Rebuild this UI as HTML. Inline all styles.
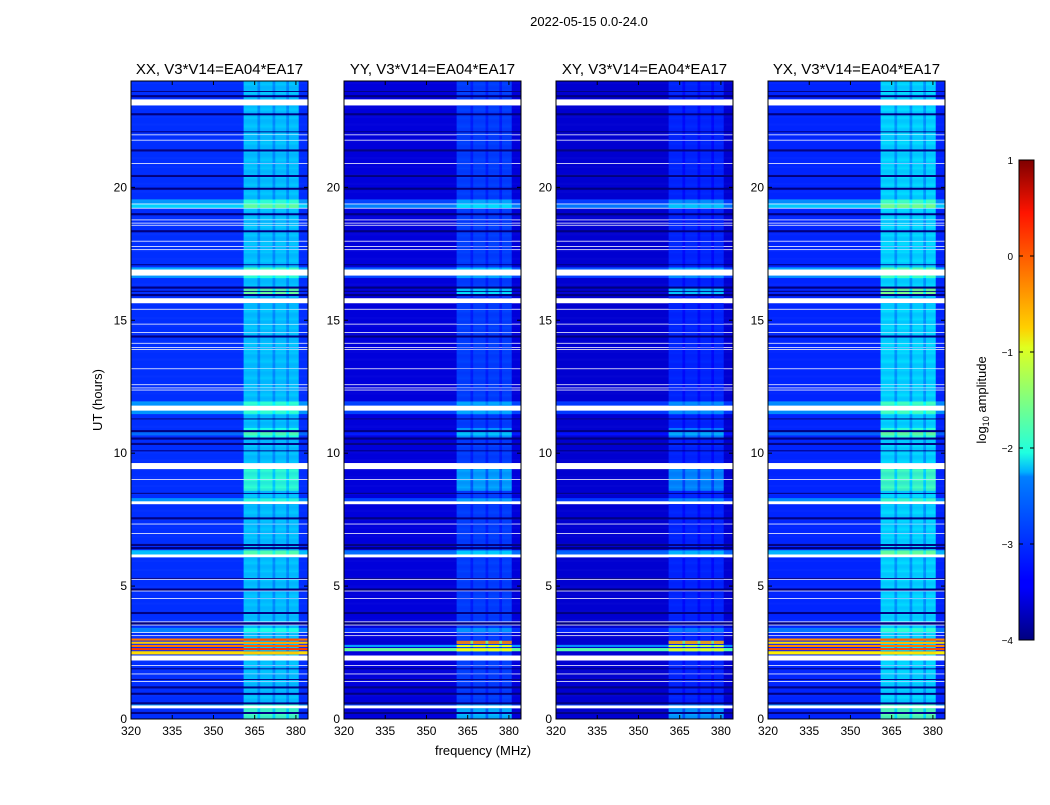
<!DOCTYPE html>
<html><head><meta charset="utf-8">
<style>
html,body{margin:0;padding:0;background:#fff;}
svg text{font-family:"Liberation Sans",sans-serif;fill:#000;}
</style></head>
<body>
<svg id="fig" width="1050" height="800" viewBox="0 0 1050 800" xmlns="http://www.w3.org/2000/svg">
<defs>
<linearGradient id="jet" x1="0" y1="1" x2="0" y2="0">
<stop offset="0" stop-color="#00007f"/><stop offset="0.11" stop-color="#0000ff"/>
<stop offset="0.125" stop-color="#0000ff"/><stop offset="0.34" stop-color="#0080ff"/>
<stop offset="0.35" stop-color="#00b0ff"/><stop offset="0.39" stop-color="#1fffe0"/>
<stop offset="0.5" stop-color="#80ff80"/><stop offset="0.61" stop-color="#e0ff1f"/>
<stop offset="0.65" stop-color="#ffd000"/><stop offset="0.89" stop-color="#ff1400"/>
<stop offset="1" stop-color="#7f0000"/>
</linearGradient>
</defs>
<text x="589" y="26" font-size="13" text-anchor="middle">2022-05-15 0.0-24.0</text>
<text x="483" y="755" font-size="13" text-anchor="middle">frequency (MHz)</text>
<text x="0" y="0" font-size="13" text-anchor="middle" transform="translate(102,400) rotate(-90)">UT (hours)</text>
<g id="panels"></g>
<g>
<rect x="1019" y="160" width="15" height="480" fill="url(#jet)" stroke="#000" stroke-width="1"/>
<g id="cbticks"></g>
<text x="0" y="0" font-size="13" text-anchor="middle" transform="translate(986,400) rotate(-90)">log<tspan font-size="9" dy="3">10</tspan><tspan dy="-3"> amplitude</tspan></text>
</g>
</svg>
<script>
const panelNames = ['XX','YY','XY','YX'];
const panelLeft = [131,344,556,768];
const baseLevel = [-3.15,-3.55,-3.6,-3.2];
const bandBoost = [0.75,0.5,0.42,0.9];
const bandEdges = [[361,366],[367,371.5],[372.5,376.5],[377.5,381]];
const xTicks = [320,335,350,365,380];
const yTicks = [0,5,10,15,20];
const cbTicks = [-4,-3,-2,-1,0,1];
const whiteRows = [[23.1,23.34],[21.95,22.0],[21.76,21.8],[20.88,20.92],[19.38,19.42],[19.22,19.26],[18.78,18.82],[18.64,18.68],[18.55,18.59],
 [17.95,17.99],[17.78,17.82],[17.63,17.67],[16.7,16.94],[15.66,15.85],[15.4,15.44],[14.84,14.88],[14.54,14.58],[14.14,14.18],[13.98,14.02],
 [13.88,13.92],[13.18,13.22],[12.55,12.59],[12.45,12.49],[12.35,12.39],[11.6,11.8],[9.41,9.65],[9.02,9.06],[8.1,8.2],[7.33,7.37],[6.96,7.0],
 [6.08,6.19],[5.23,5.27],[4.79,4.83],[4.52,4.56],[3.63,3.67],[3.51,3.55],[3.25,3.29],[3.13,3.17],[2.21,2.4],[2.01,2.05],[1.7,1.74],[1.41,1.45],[0.41,0.53]];
const blackRows = [23.62,23.45,22.75,22.1,21.4,20.45,19.95,19.0,18.35,17.1,16.25,16.1,15.95,14.4,11.3,10.85,10.55,10.35,10.1,8.5,7.55,6.55,6.45,5.3,4.88,4.0,3.6,1.9,1.5,1.2,0.95,0.6,0.25];
const cyanRows = [[19.26,19.38,0.8],[19.42,19.55,0.5],[16.94,17.0,0.6],[16.62,16.7,0.5],[11.8,11.95,0.5],[11.48,11.6,0.5],[8.2,8.3,0.5],[6.19,6.35,0.7],[3.29,3.45,0.4],[0.53,0.65,0.5],[10.7,10.8,0.3]];
const brightBandRows = [[15.95,16.3,0.8],[8.6,9.41,0.5],[0.0,0.41,0.6],[10.6,10.95,0.4]];
const hotRowsXX = [[2.95,3.05,-0.2,0.0],[2.85,2.92,-0.6,-0.4],[2.72,2.8,-0.2,-0.1],[2.6,2.68,0.1,0.1],[2.45,2.55,-0.7,-0.6]];
const hotRowsYY = [[2.85,2.95,-3.6,-0.2],[2.72,2.8,-2.6,-1.0],[2.55,2.68,-1.6,-0.9]];
const hotRowsXY = [[2.85,2.95,-3.6,-0.4],[2.72,2.8,-2.7,-1.2],[2.55,2.68,-1.7,-1.0]];
const hotRowsYX = [[2.95,3.05,-0.3,-0.1],[2.85,2.92,-0.7,-0.5],[2.72,2.8,-0.3,-0.2],[2.6,2.68,0.0,0.0],[2.45,2.55,-0.8,-0.7]];
const hotRows = [hotRowsXX,hotRowsYY,hotRowsXY,hotRowsYX];

const NS='http://www.w3.org/2000/svg';
const top0=81, bot0=719, pw=177, fMin=320, fMax=384.4, tMin=0, tMax=24;
function xScale(p,f){return panelLeft[p]+(f-fMin)/(fMax-fMin)*pw;}
function yScale(t){return bot0-(t-tMin)/(tMax-tMin)*(bot0-top0);}
function jet(v){
  let x=(v+4)/5; x=Math.max(0,Math.min(1,x));
  const c=t=>Math.max(0,Math.min(1,1.5-Math.abs(4*x-t)));
  return 'rgb('+Math.round(255*c(3))+','+Math.round(255*c(2))+','+Math.round(255*c(1))+')';
}
function mk(tag,attrs,parent){const e=document.createElementNS(NS,tag);for(const k in attrs)e.setAttribute(k,attrs[k]);parent.appendChild(e);return e;}
function rowInfo(p,t){
  for(const w of whiteRows) if(t>=w[0]&&t<w[1]) return null;
  for(const h of hotRows[p]) if(t>=h[0]&&t<h[1]) return {bg:h[2],band:h[3]};
  for(const b of blackRows) if(Math.abs(t-b)<0.035) return {bg:-4,band:-4};
  let bg=baseLevel[p], extra=0;
  for(const c of cyanRows) if(t>=c[0]&&t<c[1]) bg+=c[2];
  for(const r of brightBandRows) if(t>=r[0]&&t<r[1]) extra+=r[2];
  return {bg:bg,band:bg+bandBoost[p]+extra};
}
const g=document.getElementById('panels');
const dt=0.04;
for(let p=0;p<4;p++){
  const pg=mk('g',{},g);
  
  
  mk('rect',{x:panelLeft[p],y:top0,width:pw,height:bot0-top0,fill:'#fff'},pg);
  const hg=mk('g',{},pg);
  
  
  for(let i=0;i<tMax/dt;i++){
    const t0=i*dt, tm=t0+dt/2, info=rowInfo(p,tm);
    if(!info) continue;
    const y=yScale(t0+dt), h=yScale(t0)-y+0.3;
    const r=mk('rect',{x:xScale(p,fMin),y:y,width:pw,height:h,fill:jet(info.bg)},hg);
    
    
    if(info.band!==info.bg){
      const gp=mk('rect',{x:xScale(p,361),y:y,width:xScale(p,381)-xScale(p,361),height:h,fill:jet(info.bg+(info.band-info.bg)*0.65)},hg);
      
      
      for(const be of bandEdges){
        const c=mk('rect',{x:xScale(p,be[0]),y:y,width:xScale(p,be[1])-xScale(p,be[0]),height:h,fill:jet(info.band)},hg);
        
        
      }
    }
  }
  const fr=mk('rect',{x:panelLeft[p],y:top0,width:pw,height:bot0-top0,fill:'none',stroke:'#000','stroke-width':1},pg);
  
  
  const tt=mk('text',{x:panelLeft[p]+pw/2,y:74,'font-size':15,'text-anchor':'middle'},pg);
  tt.textContent=panelNames[p]+', V3*V14=EA04*EA17';
  
  
  for(const f of xTicks){
    const x=xScale(p,f);
    mk('line',{x1:x,x2:x,y1:bot0,y2:bot0-4,stroke:'#000'},pg);
    mk('line',{x1:x,x2:x,y1:top0,y2:top0+4,stroke:'#000'},pg);
    const tl=mk('text',{x:x,y:bot0+16,'font-size':12,'text-anchor':'middle'},pg);
    tl.textContent=f;
    
    
  }
  for(const t of yTicks){
    const y=yScale(t);
    mk('line',{x1:panelLeft[p],x2:panelLeft[p]+4,y1:y,y2:y,stroke:'#000'},pg);
    mk('line',{x1:panelLeft[p]+pw,x2:panelLeft[p]+pw-4,y1:y,y2:y,stroke:'#000'},pg);
    const tl=mk('text',{x:panelLeft[p]-4,y:y+4,'font-size':12,'text-anchor':'end'},pg);
    tl.textContent=t;
    
    
  }
}
const cb=document.getElementById('cbticks');
for(const v of cbTicks){
  const y=640-(v+4)/5*480;
  mk('line',{x1:1019,x2:1023,y1:y,y2:y,stroke:'#000'},cb);
  mk('line',{x1:1034,x2:1030,y1:y,y2:y,stroke:'#000'},cb);
  const tl=mk('text',{x:1013,y:y+4,'font-size':10,'text-anchor':'end'},cb);
  tl.textContent=(v<0?'\u2212'+(-v):v);
  
  
}
</script>
</body></html>
